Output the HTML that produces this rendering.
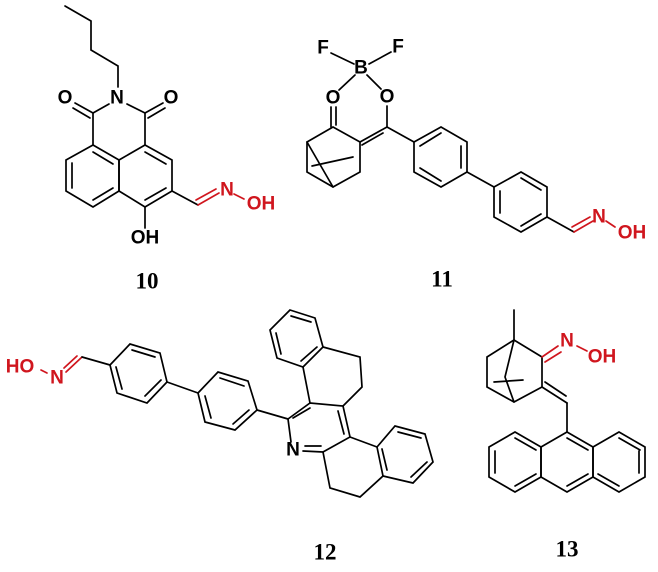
<html><body style="margin:0;background:#fff">
<svg width="658" height="572" viewBox="0 0 658 572" xmlns="http://www.w3.org/2000/svg" style="display:block">
<style>text{font-family:"Liberation Sans",sans-serif;font-weight:bold;font-size:19px;text-anchor:middle;dominant-baseline:central}.l{font-family:"Liberation Serif",serif;font-size:23px}.r{fill:#d0161e}</style>
<g stroke="#000" stroke-width="1.7" fill="none" stroke-linecap="round">
<!-- 10 -->
<polyline points="65,6 91,21 91,50 118,66 118,87"/>
<line x1="109" y1="104" x2="93" y2="113"/><line x1="127" y1="104" x2="145" y2="113"/>
<line x1="93" y1="113" x2="75" y2="103"/><line x1="90" y1="118" x2="73" y2="108"/>
<line x1="145" y1="113" x2="163" y2="103"/><line x1="148" y1="118" x2="165" y2="108"/>
<line x1="93" y1="113" x2="93" y2="145"/><line x1="145" y1="113" x2="145" y2="145"/>
<polygon points="93,145 66,160 66,191 93,207 119,191 119,160"/>
<polygon points="145,145 119,160 119,191 145,207 172,191 172,160"/>
<line x1="72" y1="163" x2="72" y2="188"/><line x1="93" y1="200" x2="113" y2="188"/><line x1="93" y1="152" x2="113" y2="164"/>
<line x1="145" y1="152" x2="166" y2="164"/><line x1="145" y1="200" x2="166" y2="188"/>
<line x1="145" y1="207" x2="145" y2="228"/>
<line x1="172" y1="191" x2="198" y2="205" /><g stroke="#d0161e"><line x1="198" y1="205" x2="219" y2="193"/><line x1="196" y1="200" x2="216" y2="189"/><line x1="234" y1="194" x2="244" y2="199"/></g>
<!-- 11 -->
<line x1="331" y1="53" x2="354" y2="64"/><line x1="391" y1="52" x2="369" y2="64"/>
<line x1="355" y1="75" x2="339" y2="90"/><line x1="367" y1="75" x2="381" y2="89"/>
<line x1="331" y1="107" x2="331" y2="127"/><line x1="336" y1="107" x2="336" y2="125"/>
<line x1="387" y1="106" x2="387" y2="127"/>
<line x1="387" y1="127" x2="360" y2="142"/><line x1="383" y1="133" x2="362" y2="145"/>
<polyline points="333,127 307,142 307,172 333,187 360,172 360,142 333,127"/>
<line x1="307" y1="142" x2="333" y2="187"/><line x1="312" y1="166" x2="353" y2="157"/>
<line x1="387" y1="127" x2="414" y2="142"/>
<polygon points="414,142 441,127 467,142 467,172 441,187 414,172"/>
<line x1="420" y1="146" x2="441" y2="133"/><line x1="461" y1="146" x2="461" y2="168"/><line x1="420" y1="168" x2="441" y2="181"/>
<line x1="467" y1="172" x2="494" y2="187"/>
<polygon points="494,187 521,172 547,187 547,217 521,232 494,217"/>
<line x1="500" y1="191" x2="500" y2="213"/><line x1="521" y1="178" x2="541" y2="190"/><line x1="521" y1="226" x2="541" y2="214"/>
<line x1="547" y1="217" x2="574" y2="232"/><g stroke="#d0161e"><line x1="574" y1="232" x2="593" y2="221"/><line x1="572" y1="227" x2="590" y2="217"/><line x1="606" y1="221" x2="615" y2="227"/></g>
<!-- 12 -->
<g stroke="#d0161e"><line x1="41" y1="370" x2="47" y2="373"/><line x1="66" y1="372" x2="82" y2="357"/><line x1="64" y1="368" x2="77" y2="356"/></g>
<line x1="82" y1="357" x2="110" y2="365"/>
<polygon points="110,365 130,344 160,353 167,382 147,403 117,393"/>
<line x1="132" y1="350" x2="155" y2="357"/><line x1="116" y1="367" x2="122" y2="389"/><line x1="161" y1="380" x2="145" y2="396"/>
<line x1="167" y1="382" x2="198" y2="393"/>
<polygon points="198,393 218,372 248,381 257,410 235,430 205,422"/>
<line x1="220" y1="378" x2="244" y2="386"/><line x1="205" y1="396" x2="211" y2="418"/><line x1="249" y1="410" x2="233" y2="424"/>
<line x1="257" y1="410" x2="288" y2="419"/>
<polyline points="288,419 310,403 343,406 350,437 323,452 303,451"/><line x1="288" y1="419" x2="291" y2="442"/>
<line x1="293" y1="418" x2="310" y2="408"/><line x1="338" y1="411" x2="344" y2="434"/><line x1="305" y1="446" x2="321" y2="446"/>
<polygon points="290,310 315,318 323,347 303,367 277,358 270,330"/>
<line x1="291" y1="316" x2="311" y2="322"/><line x1="276" y1="333" x2="281" y2="354"/><line x1="317" y1="347" x2="301" y2="361"/>
<line x1="303" y1="367" x2="310" y2="403"/>
<polyline points="323,347 360,357 362,387 343,406"/>
<line x1="350" y1="437" x2="377" y2="447"/>
<polygon points="377,447 395,426 425,434 433,462 413,483 383,476"/>
<line x1="382" y1="449" x2="387" y2="470"/><line x1="398" y1="432" x2="421" y2="438"/><line x1="427" y1="462" x2="411" y2="477"/>
<polyline points="383,476 360,497 330,488 323,452"/>
<!-- 13 -->
<line x1="514" y1="310" x2="514" y2="340"/>
<polyline points="514,340 542,357 542,387 514,402 487,387 487,357 514,340"/>
<polyline points="514,340 505,377 514,402"/><line x1="494" y1="382" x2="523" y2="380"/>
<g stroke="#d0161e"><line x1="542" y1="357" x2="558" y2="346"/><line x1="545" y1="362" x2="561" y2="352"/><line x1="577" y1="346" x2="587" y2="351"/></g>
<line x1="542" y1="387" x2="567" y2="403"/><line x1="545" y1="382" x2="566" y2="396"/>
<line x1="567" y1="403" x2="567" y2="432"/>
<polygon points="567,432 593,447 593,477 567,492 541,477 541,447"/>
<polygon points="541,447 515,432 489,447 489,477 515,492 541,477"/>
<polygon points="593,447 619,432 645,447 645,477 619,492 593,477"/>
<line x1="567" y1="438" x2="588" y2="450"/><line x1="567" y1="486" x2="588" y2="474"/>
<line x1="515" y1="438" x2="536" y2="450"/><line x1="495" y1="451" x2="495" y2="473"/><line x1="515" y1="486" x2="536" y2="474"/>
<line x1="619" y1="438" x2="640" y2="450"/><line x1="639" y1="451" x2="639" y2="473"/><line x1="598" y1="474" x2="619" y2="486"/>
</g>
<text x="117" y="98">N</text><text x="65" y="98">O</text><text x="171" y="98">O</text><text x="145" y="238">OH</text>
<text class="r" x="227" y="190">N</text><text class="r" x="261" y="204">OH</text>
<text class="l" x="147" y="281">10</text>
<text x="323" y="48">F</text><text x="398" y="47">F</text><text x="361" y="68">B</text><text x="333" y="98">O</text><text x="387" y="97">O</text>
<text class="r" x="599" y="217">N</text><text class="r" x="632" y="233">OH</text>
<text class="l" x="442" y="279">11</text>
<text class="r" x="20" y="367">HO</text><text class="r" x="57" y="378">N</text>
<text x="293" y="450">N</text>
<text class="l" x="325" y="552">12</text>
<text class="r" x="567" y="341">N</text><text class="r" x="602" y="357">OH</text>
<text class="l" x="567" y="549">13</text>
</svg>
</body></html>
